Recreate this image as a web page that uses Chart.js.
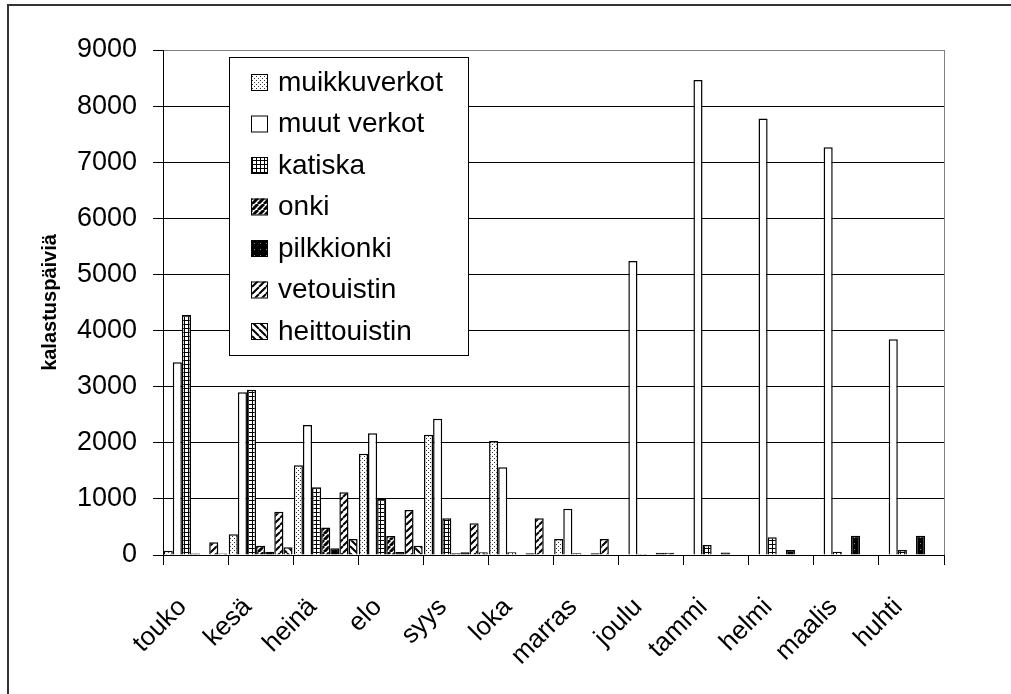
<!DOCTYPE html>
<html>
<head>
<meta charset="utf-8">
<script src="https://cdn.jsdelivr.net/npm/chart.js@4"></script>
<style>
  body { margin: 0; background: #fff; }
  canvas { display: block; }
</style>
</head>
<body>
<canvas id="kalastus" width="1011" height="694"></canvas>
<script>
const kuukaudet = ['touko', 'kesä', 'heinä', 'elo', 'syys', 'loka', 'marras', 'joulu', 'tammi', 'helmi', 'maalis', 'huhti'];

const muikkuverkot = [77, 370, 1600, 1805, 2145, 2030, 287, 0, 0, 0, 0, 0];
const muutVerkot   = [3435, 2900, 2318, 2170, 2430, 1565, 824, 5240, 8467, 7777, 7267, 3845];
const katiska      = [4278, 2945, 1206, 998, 657, 50, 30, 20, 180, 315, 60, 90];
const onki         = [25, 167, 490, 340, 30, 0, 0, 0, 0, 0, 0, 0];
const pilkkionki   = [0, 60, 120, 54, 50, 30, 30, 40, 45, 90, 345, 345];
const vetouistin   = [228, 770, 1117, 800, 567, 657, 287, 40, 0, 0, 0, 0];
const heittouistin = [25, 137, 287, 167, 50, 0, 0, 0, 0, 0, 0, 0];

const yTicks = [0, 1000, 2000, 3000, 4000, 5000, 6000, 7000, 8000, 9000];

const fontti = 'Arial, "Liberation Sans", sans-serif';

// pienet kuviot pylväisiin
function tiili(size, piirra) {
    const c = document.createElement('canvas');
    c.width = size;
    c.height = size;
    const g = c.getContext('2d');
    piirra(g, size);
    return c.getContext('2d').createPattern(c, 'repeat');
}

const pisteet = tiili(4, (g, s) => {
    g.fillStyle = '#fff'; g.fillRect(0, 0, s, s);
    g.fillStyle = '#333'; g.fillRect(0, 0, 1, 1); g.fillRect(2, 2, 1, 1);
});
const ruudut = tiili(4, (g, s) => {
    g.fillStyle = '#fff'; g.fillRect(0, 0, s, s);
    g.fillStyle = '#000'; g.fillRect(0, 0, s, 1); g.fillRect(0, 0, 1, s);
});
const mustaPiste = tiili(6, (g, s) => {
    g.fillStyle = '#000'; g.fillRect(0, 0, s, s);
    g.fillStyle = '#888'; g.fillRect(2, 3, 1, 1);
});
function raidat(size, lw, suunta) {
    return tiili(size, (g, s) => {
        g.fillStyle = '#fff'; g.fillRect(0, 0, s, s);
        g.strokeStyle = '#000'; g.lineWidth = lw;
        g.beginPath();
        for (let k = -1; k <= 1; k++) {
            if (suunta > 0) { g.moveTo(k * s, s); g.lineTo(k * s + s, 0); }
            else { g.moveTo(k * s, 0); g.lineTo(k * s + s, s); }
        }
        g.stroke();
    });
}

const sarjat = [
    { label: 'muikkuverkot', data: muikkuverkot, backgroundColor: pisteet },
    { label: 'muut verkot', data: muutVerkot, backgroundColor: '#fff' },
    { label: 'katiska', data: katiska, backgroundColor: ruudut },
    { label: 'onki', data: onki, backgroundColor: raidat(6, 3, 1) },
    { label: 'pilkkionki', data: pilkkionki, backgroundColor: mustaPiste },
    { label: 'vetouistin', data: vetouistin, backgroundColor: raidat(7, 2, 1) },
    { label: 'heittouistin', data: heittouistin, backgroundColor: raidat(7, 2, -1) },
];

// selite kuvaajan sisään + kehykset
const selite = {
    id: 'selite',
    afterDraw(chart) {
        const g = chart.ctx;
        const a = chart.chartArea;
        g.save();
        // oikea reuna harmaana
        g.strokeStyle = '#808080';
        g.lineWidth = 1;
        g.beginPath();
        g.moveTo(Math.round(a.right) + 0.5, a.top);
        g.lineTo(Math.round(a.right) + 0.5, a.bottom);
        g.stroke();
        // ulkokehys (vain vasen ja ylä näkyvät)
        g.strokeStyle = '#333';
        g.lineWidth = 2;
        g.beginPath();
        g.moveTo(8, chart.height + 5);
        g.lineTo(8, 5);
        g.lineTo(chart.width + 5, 5);
        g.stroke();

        // selitelaatikko
        g.fillStyle = '#fff';
        g.fillRect(229.5, 57.5, 239, 298);
        g.strokeStyle = '#000';
        g.lineWidth = 1;
        g.strokeRect(229.5, 57.5, 239, 298);
        g.font = '28px ' + fontti;
        g.textBaseline = 'middle';
        chart.data.datasets.forEach((ds, i) => {
            const y = 82 + i * 41.5;
            g.fillStyle = ds.backgroundColor;
            g.fillRect(251, y - 8, 16, 16);
            g.strokeStyle = '#000';
            g.lineWidth = 1;
            g.strokeRect(251.5, y - 7.5, 16, 16);
            g.fillStyle = '#000';
            g.fillText(ds.label, 278, y + 1);
        });
        g.restore();
    }
};

new Chart(document.getElementById('kalastus'), {
    type: 'bar',
    data: {
        labels: kuukaudet,
        datasets: sarjat.map(s => ({
            label: s.label,
            data: s.data,
            backgroundColor: s.backgroundColor,
            borderColor: '#000',
            borderWidth: 1.5,
            categoryPercentage: 0.98,
            barPercentage: 1.0,
        }))
    },
    options: {
        responsive: false,
        animation: false,
        devicePixelRatio: 1,
        layout: { padding: { left: 0, top: 50, right: 67, bottom: 0 } },
        plugins: {
            legend: { display: false },
            tooltip: { enabled: false },
        },
        scales: {
            x: {
                grid: { drawOnChartArea: false, color: '#000', tickLength: 10, offset: true },
                border: { color: '#000', width: 1 },
                ticks: {
                    autoSkip: false,
                    minRotation: 45,
                    maxRotation: 45,
                    color: '#000',
                    font: { family: fontti, size: 26 },
                    padding: 27,
                    labelOffset: -13,
                },
                afterFit: (scale) => { scale.height = 139; },
            },
            y: {
                min: 0,
                max: 9000,
                afterBuildTicks: (scale) => { scale.ticks = yTicks.map(v => ({ value: v })); },
                grid: {
                    color: (c) => (c.tick && c.tick.value === 9000 ? '#808080' : '#000'),
                    tickColor: '#000',
                    tickLength: 10,
                },
                border: { color: '#000', width: 1 },
                ticks: {
                    color: '#000',
                    font: { family: fontti, size: 27 },
                    padding: 16,
                    callback: (v) => String(v),
                },
                title: {
                    display: true,
                    text: 'kalastuspäiviä',
                    color: '#000',
                    font: { family: fontti, size: 20, weight: 'bold' },
                    padding: { top: 38, bottom: 0 },
                },
                afterFit: (scale) => { scale.width = 163; },
            }
        }
    },
    plugins: [selite]
});
</script>
</body>
</html>
